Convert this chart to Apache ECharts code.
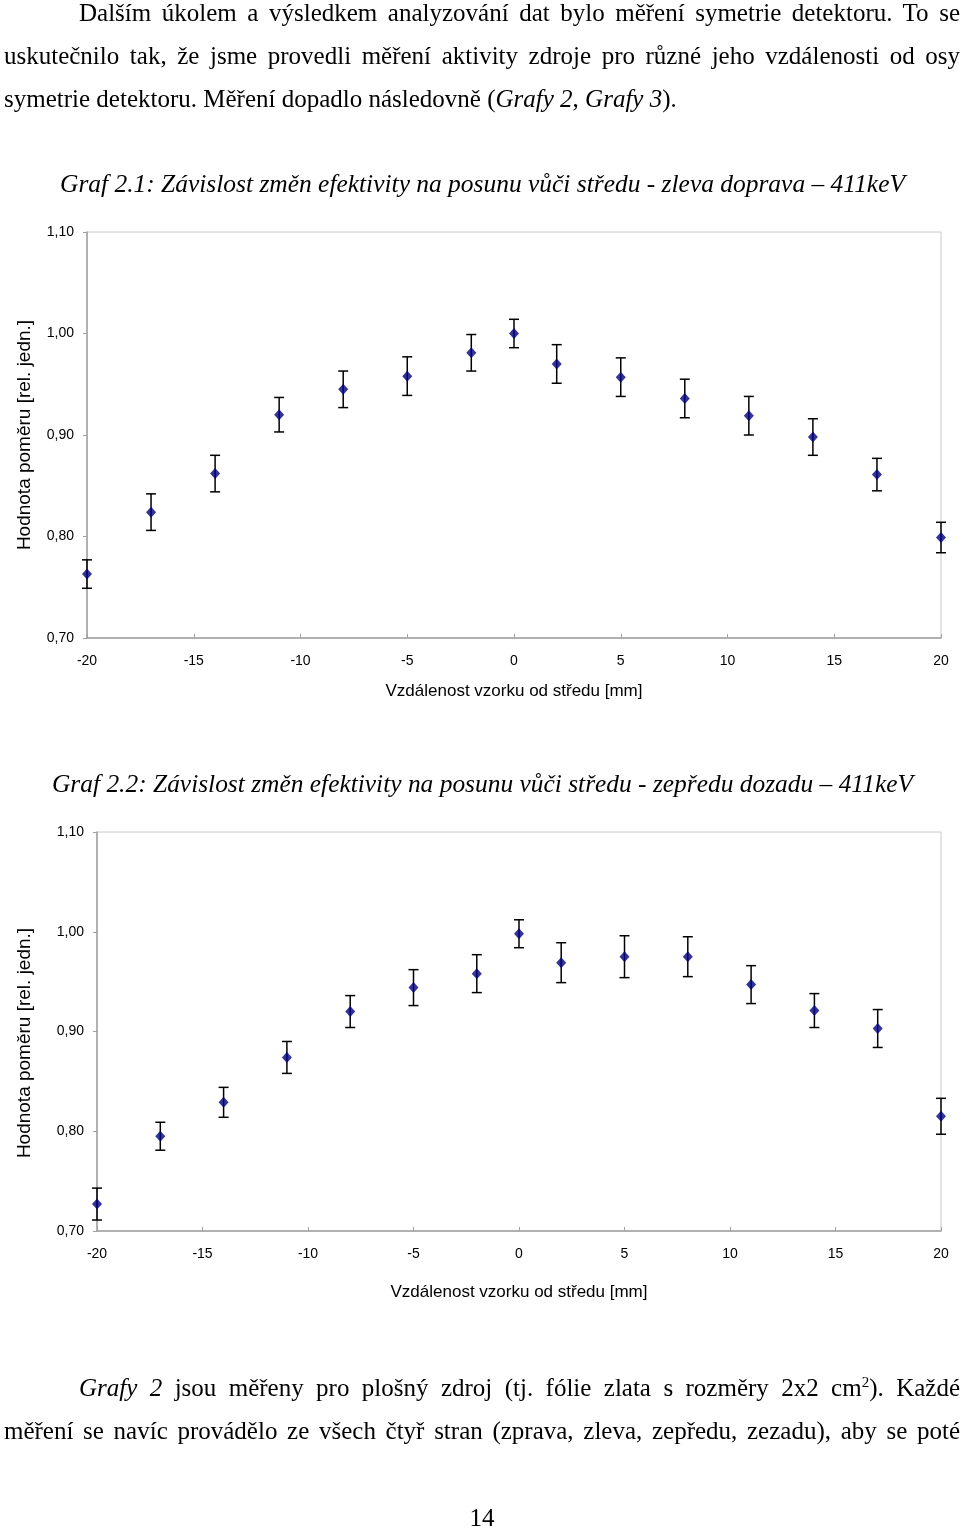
<!DOCTYPE html>
<html><head><meta charset="utf-8">
<script src="https://cdn.jsdelivr.net/npm/echarts/dist/echarts.min.js"></script>
<style>
html,body{margin:0;padding:0;background:#fff;}
#chart{position:absolute;left:0;top:0;width:960px;height:1527px;}
.p{position:absolute;font-family:'Liberation Serif','Times New Roman',serif;font-size:25px;line-height:43px;color:#000;white-space:normal;}
.j{text-align:justify;text-align-last:justify;height:43px;overflow:hidden;}
sup{font-size:15px;line-height:0;}
</style></head>
<body>
<div id="chart"></div>
<div class="p j" style="left:79px;top:-9px;width:881px">Dalším úkolem a výsledkem analyzování dat bylo měření symetrie detektoru. To se</div>
<div class="p j" style="left:4px;top:34px;width:956px">uskutečnilo tak, že jsme provedli měření aktivity zdroje pro různé jeho vzdálenosti od osy</div>
<div class="p" style="left:4px;top:77px;">symetrie detektoru. Měření dopadlo následovně (<i>Grafy 2</i>, <i>Grafy 3</i>).</div>
<div class="p j" style="left:79px;top:1366px;width:881px"><i>Grafy 2</i> jsou měřeny pro plošný zdroj (tj. fólie zlata s rozměry 2x2 cm<sup>2</sup>). Každé</div>
<div class="p j" style="left:4px;top:1409px;width:956px">měření se navíc provádělo ze všech čtyř stran (zprava, zleva, zepředu, zezadu), aby se poté</div>
<div class="p" style="left:0;width:964px;text-align:center;top:1496px;">14</div>
<script>
// ---- data ----
const xPos = [-20, -17, -14, -11, -8, -5, -2, 0, 2, 5, 8, 11, 14, 17, 20];
const ratio1 = [0.763, 0.824, 0.862, 0.920, 0.945, 0.958, 0.981, 1.000, 0.970, 0.957, 0.936, 0.919, 0.898, 0.861, 0.799];
const err1 = [0.014, 0.018, 0.018, 0.017, 0.018, 0.019, 0.018, 0.014, 0.019, 0.019, 0.019, 0.019, 0.018, 0.016, 0.015];
const ratio2 = [0.727, 0.795, 0.829, 0.874, 0.920, 0.944, 0.958, 0.998, 0.969, 0.975, 0.975, 0.947, 0.921, 0.903, 0.815];
const err2 = [0.016, 0.014, 0.015, 0.016, 0.016, 0.018, 0.019, 0.014, 0.020, 0.021, 0.020, 0.019, 0.017, 0.019, 0.018];
const title1 = 'Graf 2.1: Závislost změn efektivity na posunu vůči středu - zleva doprava – 411keV';
const title2 = 'Graf 2.2: Závislost změn efektivity na posunu vůči středu - zepředu dozadu – 411keV';
const xName = 'Vzdálenost vzorku od středu [mm]';
const yName = 'Hodnota poměru [rel. jedn.]';

const chart = echarts.init(document.getElementById('chart'), null, {renderer: 'canvas'});

const cv = document.createElement('canvas').getContext('2d');
function measure(text, font) { cv.font = font; return cv.measureText(text).width; }
const titleFont = 'italic 25px "Liberation Serif"';

function errRender(params, api) {
  const x = api.value(0), lo = api.value(1), hi = api.value(2);
  const pLo = api.coord([x, lo]), pHi = api.coord([x, hi]);
  const w = 5;
  const style = {stroke: '#000', lineWidth: 1.5};
  return {type: 'group', children: [
    {type: 'line', shape: {x1: pLo[0], y1: pLo[1], x2: pHi[0], y2: pHi[1]}, style},
    {type: 'line', shape: {x1: pLo[0] - w, y1: pLo[1], x2: pLo[0] + w, y2: pLo[1]}, style},
    {type: 'line', shape: {x1: pHi[0] - w, y1: pHi[1], x2: pHi[0] + w, y2: pHi[1]}, style}
  ]};
}
const fmt = v => v.toFixed(2).replace('.', ',');

function xAx(gi, gap) {
  return {
    type: 'value', gridIndex: gi, min: -20, max: 20, interval: 5,
    name: xName, nameLocation: 'middle', nameGap: gap,
    nameTextStyle: {fontFamily: 'Liberation Sans', fontSize: 17, color: '#000'},
    axisLine: {onZero: false, lineStyle: {color: '#a0a0a0', width: 1.5}},
    axisTick: {inside: true, length: 4, lineStyle: {color: '#a0a0a0'}},
    axisLabel: {margin: 16, fontFamily: 'Liberation Sans', fontSize: 14, color: '#000'},
    splitLine: {show: false}
  };
}
function yAx(gi) {
  return {
    type: 'value', gridIndex: gi, min: 0.7, max: 1.1, interval: 0.1,
    axisLine: {show: true, onZero: false, lineStyle: {color: '#a0a0a0', width: 1.5}},
    axisTick: {show: true, inside: false, length: 4, lineStyle: {color: '#a0a0a0'}},
    axisLabel: {margin: 13, fontFamily: 'Liberation Sans', fontSize: 14, color: '#000', formatter: fmt},
    splitLine: {show: false}
  };
}
function titleGraphic(text, left, right, cy) {
  const w = measure(text, titleFont);
  return {type: 'text', x: left, y: cy, scaleX: (right - left) / w,
    style: {text, font: titleFont, fill: '#000', textVerticalAlign: 'middle', verticalAlign: 'middle'}};
}
function yNameGraphic(cx, cy) {
  return {type: 'text', x: cx, y: cy, rotation: Math.PI / 2,
    style: {text: yName, fontFamily: 'Liberation Sans', fontSize: 19, fill: '#000', align: 'center', verticalAlign: 'middle'}};
}

chart.setOption({
  animation: false,
  grid: [
    {left: 87, right: 19, top: 232, height: 406, show: true, borderColor: '#c8c8c8', borderWidth: 1},
    {left: 97, right: 19, top: 832, height: 399, show: true, borderColor: '#c8c8c8', borderWidth: 1}
  ],
  xAxis: [xAx(0, 45), xAx(1, 53)],
  yAxis: [yAx(0), yAx(1)],
  graphic: [
    titleGraphic(title1, 60, 905, 185),
    titleGraphic(title2, 52, 913, 785),
    yNameGraphic(25, 435),
    yNameGraphic(25, 1043)
  ],
  series: [
    {type: 'custom', xAxisIndex: 0, yAxisIndex: 0, renderItem: errRender, encode: {x: 0, y: [1, 2]},
      data: xPos.map((x, i) => [x, ratio1[i] - err1[i], ratio1[i] + err1[i]]), z: 2},
    {type: 'scatter', xAxisIndex: 0, yAxisIndex: 0, symbol: 'diamond', symbolSize: [10, 11],
      itemStyle: {color: '#000080'}, data: xPos.map((x, i) => [x, ratio1[i]]), z: 3},
    {type: 'custom', xAxisIndex: 1, yAxisIndex: 1, renderItem: errRender, encode: {x: 0, y: [1, 2]},
      data: xPos.map((x, i) => [x, ratio2[i] - err2[i], ratio2[i] + err2[i]]), z: 2},
    {type: 'scatter', xAxisIndex: 1, yAxisIndex: 1, symbol: 'diamond', symbolSize: [10, 11],
      itemStyle: {color: '#000080'}, data: xPos.map((x, i) => [x, ratio2[i]]), z: 3}
  ]
});
</script>
</body></html>
